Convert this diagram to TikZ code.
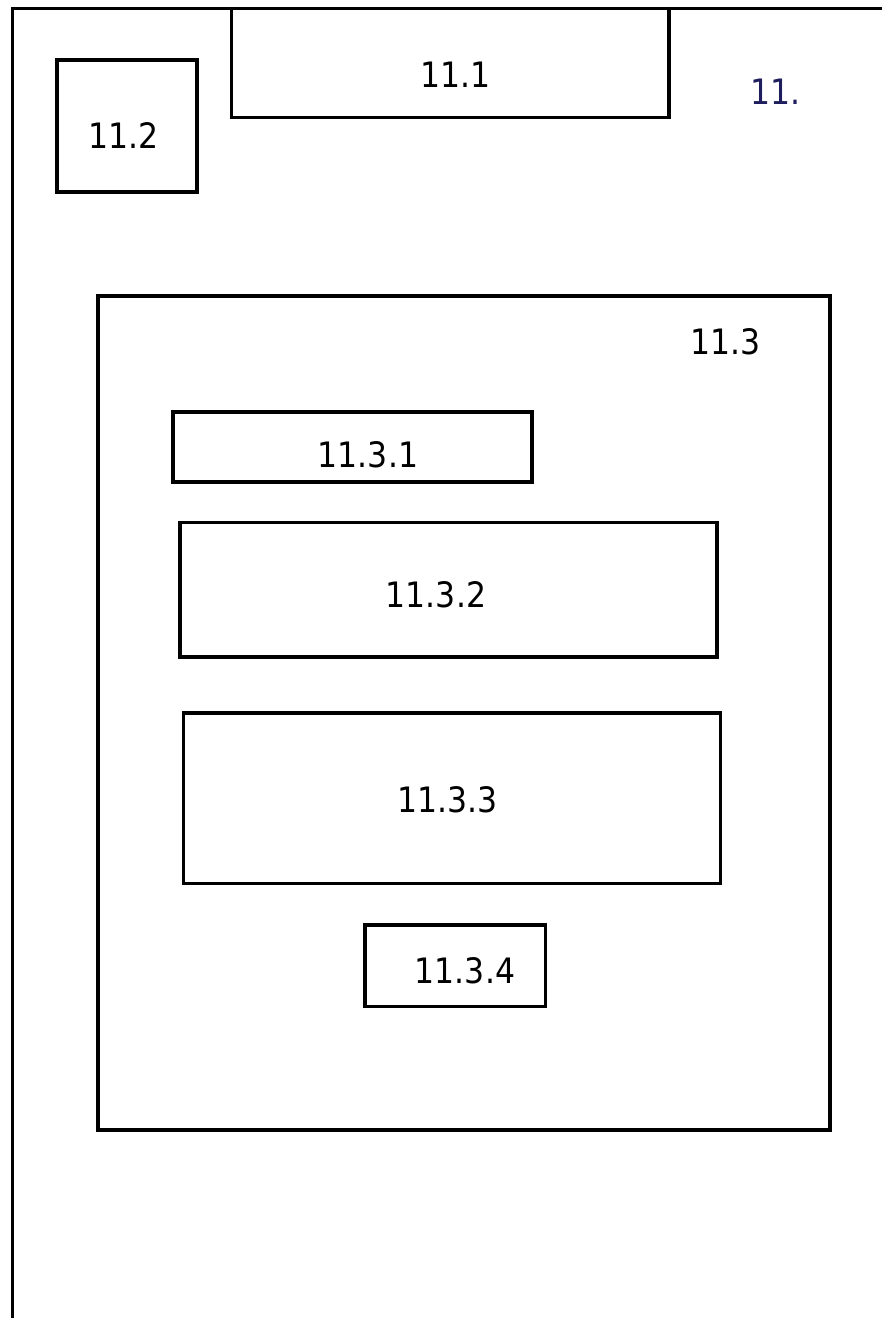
\documentclass[tikz,border=0pt]{standalone}
\usepackage{fontspec}
\setmainfont{DejaVu Sans}[FakeStretch=0.9]
\definecolor{navytext}{RGB}{30,30,95}
\begin{document}
\begin{tikzpicture}[x=1pt,y=-1pt,
  frame/.style={line width=3.2pt, line cap=rect},
  box/.style={draw, line width=3.2pt, rectangle, inner sep=0pt, outer sep=0pt, anchor=north west},
  lbl/.style={inner sep=0pt, anchor=center, font=\fontsize{35}{35}\selectfont}
]
\useasboundingbox (0,0) rectangle (882,1318);
% outer frame
\coordinate (otl) at (12.5,8.3);
\coordinate (otr) at (884,8.3);
\coordinate (obl) at (12.5,1320);
\draw[frame] (obl) -- (otl) -- (otr);
% top-level boxes
\node[box, minimum width=437.5pt, minimum height=109.5pt] (b111) at (231.5,8.3) {};
\node[box, minimum width=140pt, minimum height=132pt] (b112) at (57,60) {};
\node[box, minimum width=732pt, minimum height=834pt] (b113) at (98,296) {};
% inner boxes
\node[box, minimum width=359pt, minimum height=70pt] (b1131) at (173,412) {};
\node[box, minimum width=537pt, minimum height=134.5pt] (b1132) at (180,522.5) {};
\node[box, minimum width=537pt, minimum height=170.5pt] (b1133) at (183.5,713) {};
\node[box, minimum width=180.5pt, minimum height=81.5pt] (b1134) at (365,925) {};
% labels
\node[lbl] (t111) at (455.5,75) {11.1};
\node[lbl] (t112) at (123.5,136) {11.2};
\node[lbl, text=navytext] (t11) at (775.5,92) {11.};
\node[lbl] (t113) at (725.5,342) {11.3};
\node[lbl] (t1131) at (368,454.5) {11.3.1};
\node[lbl] (t1132) at (436,595) {11.3.2};
\node[lbl] (t1133) at (447.5,799.5) {11.3.3};
\node[lbl] (t1134) at (465,970.5) {11.3.4};
\end{tikzpicture}
\end{document}
